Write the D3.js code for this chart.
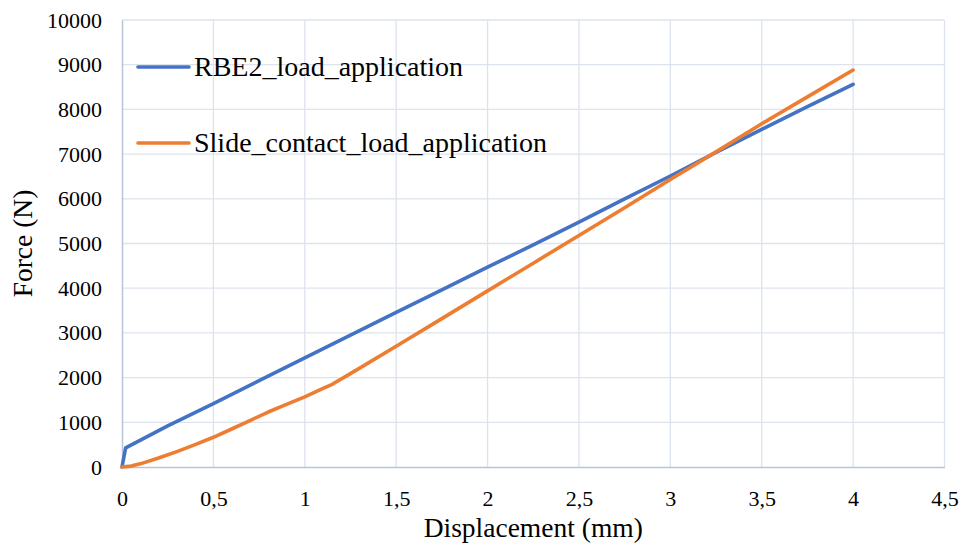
<!DOCTYPE html>
<html>
<head>
<meta charset="utf-8">
<script src="https://cdn.jsdelivr.net/npm/d3@7"></script>
<style>
  html, body { margin: 0; padding: 0; background: #fff; }
  svg text { font-family: "Liberation Serif", "Times New Roman", serif; fill: #000; }
</style>
</head>
<body>
<svg id="chart" width="962" height="548"></svg>
<script>
// Force–displacement curves for two load application methods
const seriesNames = ["RBE2_load_application", "Slide_contact_load_application"];
const seriesColors = ["#4472C4", "#ED7D31"];

const rbe2X = [0, 0.02, 0.25, 0.5, 0.75, 1, 1.25, 1.5, 1.75, 2, 2.25, 2.5, 2.75, 3, 3.25, 3.5, 3.75, 4];
const rbe2Y = [0, 430, 920, 1420, 1930, 2440, 2950, 3460, 3960, 4470, 4970, 5480, 6000, 6510, 7040, 7555, 8060, 8560];

const slideX = [0, 0.05, 0.1, 0.2, 0.3, 0.4, 0.5, 0.6, 0.7, 0.8, 0.9, 1, 1.1, 1.15, 1.25, 1.5, 1.75, 2, 2.25, 2.5, 2.75, 3, 3.25, 3.5, 3.75, 4];
const slideY = [0, 20, 70, 200, 345, 500, 665, 850, 1040, 1230, 1400, 1570, 1760, 1850, 2090, 2700, 3320, 3940, 4560, 5180, 5800, 6430, 7050, 7680, 8280, 8880];

const xTicks = [0, 0.5, 1, 1.5, 2, 2.5, 3, 3.5, 4, 4.5];
const yTicks = [0, 1000, 2000, 3000, 4000, 5000, 6000, 7000, 8000, 9000, 10000];

const xTitle = "Displacement (mm)";
const yTitle = "Force (N)";

const serif = "'Liberation Serif', 'Times New Roman', serif";
const svg = d3.select("#chart");
const plotLeft = 122, plotRight = 944.5, plotTop = 20, plotBottom = 467;

const x = d3.scaleLinear().domain([0, 4.5]).range([plotLeft, plotRight]);
const y = d3.scaleLinear().domain([0, 10000]).range([plotBottom, plotTop]);

// gridlines
const grid = svg.append("g");
grid.selectAll("line.h").data(yTicks.filter(d => d > 0)).join("line")
  .attr("x1", plotLeft).attr("x2", plotRight)
  .attr("y1", d => y(d)).attr("y2", d => y(d))
  .attr("stroke", "#dde3ec").attr("stroke-width", 1.3);
grid.selectAll("line.v").data(xTicks.filter(d => d > 0)).join("line")
  .attr("x1", d => x(d)).attr("x2", d => x(d))
  .attr("y1", plotTop).attr("y2", plotBottom)
  .attr("stroke", "#dde3ec").attr("stroke-width", 1.3);

// axes
const fmt = d => String(d).replace(".", ",");
const xAxis = svg.append("g").attr("transform", `translate(0,${plotBottom})`)
  .call(d3.axisBottom(x).tickValues(xTicks).tickFormat(fmt).tickSize(0).tickPadding(23));
const yAxis = svg.append("g").attr("transform", `translate(${plotLeft},0)`)
  .call(d3.axisLeft(y).tickValues(yTicks).tickFormat(d => d).tickSize(0).tickPadding(20));
[xAxis, yAxis].forEach(a => {
  a.attr("font-family", serif).attr("font-size", 22);
  a.select(".domain").attr("stroke", "#b7c3d6").attr("stroke-width", 1.5);
  a.selectAll("text").style("font-size", "22px").style("font-family", serif);
});

// series lines
const line = d3.line().x(d => x(d[0])).y(d => y(d[1]));
const series = [
  d3.zip(rbe2X, rbe2Y),
  d3.zip(slideX, slideY)
];
series.forEach((pts, i) => {
  svg.append("path").datum(pts)
    .attr("d", line)
    .attr("fill", "none")
    .attr("stroke", seriesColors[i])
    .attr("stroke-width", 3.6)
    .attr("stroke-linejoin", "round")
    .attr("stroke-linecap", "round");
});

// legend
const legendY = [67, 143];
seriesNames.forEach((name, i) => {
  svg.append("line")
    .attr("x1", 138).attr("x2", 189)
    .attr("y1", legendY[i]).attr("y2", legendY[i])
    .attr("stroke", seriesColors[i]).attr("stroke-width", 3.6)
    .attr("stroke-linecap", "round");
  svg.append("text")
    .attr("x", 194).attr("y", legendY[i] + 9)
    .style("font-size", "28px")
    .style("font-family", serif)
    .text(name);
});

// axis titles
svg.append("text")
  .attr("x", (plotLeft + plotRight) / 2).attr("y", 537)
  .attr("text-anchor", "middle")
  .style("font-size", "27.5px")
  .style("font-family", serif)
  .text(xTitle);
svg.append("text")
  .attr("transform", `translate(32,${(plotTop + plotBottom) / 2}) rotate(-90)`)
  .attr("text-anchor", "middle")
  .style("font-size", "27.5px")
  .style("font-family", serif)
  .text(yTitle);
</script>
</body>
</html>
